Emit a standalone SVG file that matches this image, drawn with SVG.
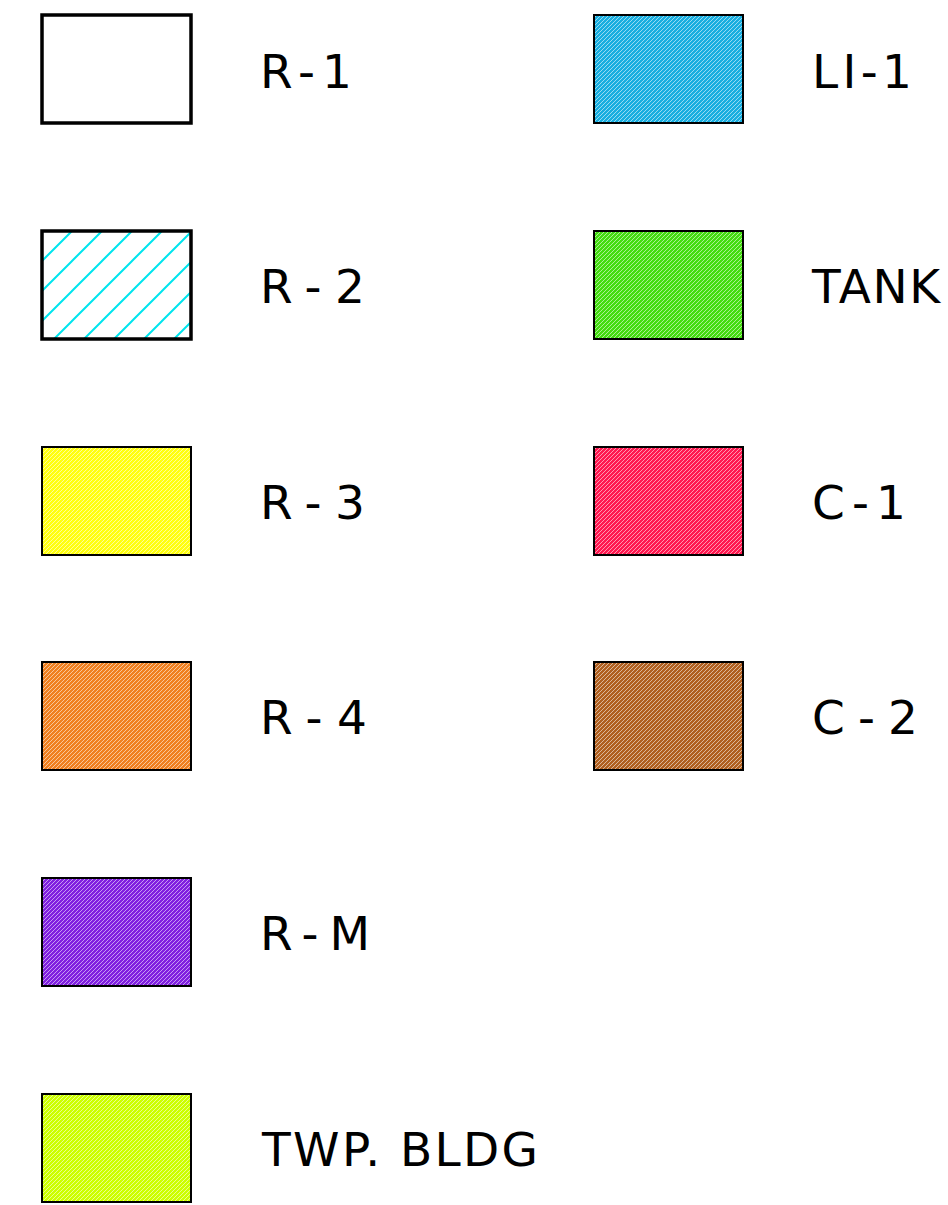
<svg xmlns="http://www.w3.org/2000/svg" width="948" height="1205" viewBox="0 0 948 1205">
<style>
.lbl{font-family:"DejaVu Sans","Liberation Sans",sans-serif;font-size:47px;fill:#000}
.box{stroke:#000;stroke-width:2}
.thick{stroke:#000;stroke-width:3.5;fill:#fff}
</style>
<defs>
<pattern id="h-r2" patternUnits="userSpaceOnUse" width="30" height="30" x="42" y="231">
<path d="M-5,35 L35,-5 M-20,20 L20,-20 M10,50 L50,10" stroke="#00e5ee" stroke-width="2"/>
</pattern>
<pattern id="fine" patternUnits="userSpaceOnUse" width="4" height="4">
<path d="M-1,5 L5,-1 M-1,1 L1,-1 M3,5 L5,3" stroke="#fff" stroke-opacity="0.55" stroke-width="1"/>
</pattern>
</defs>
<rect width="948" height="1205" fill="#fff"/>
<g id="r1"><rect class="thick" x="42" y="15" width="149" height="108"/><text class="lbl" x="260" y="88" textLength="92" lengthAdjust="spacing">R-1</text></g>
<g id="r2"><rect x="42" y="231" width="149" height="108" fill="url(#h-r2)"/><rect x="42" y="231" width="149" height="108" fill="none" stroke="#000" stroke-width="3.5"/><text class="lbl" x="260" y="303" textLength="105" lengthAdjust="spacing">R-2</text></g>
<g id="r3"><rect class="box" x="42" y="447" width="149" height="108" fill="#ffff10"/><rect x="43" y="448" width="147" height="106" fill="url(#fine)"/><text class="lbl" x="260" y="519" textLength="105" lengthAdjust="spacing">R-3</text></g>
<g id="r4"><rect class="box" x="42" y="662" width="149" height="108" fill="#f08020"/><rect x="43" y="663" width="147" height="106" fill="url(#fine)"/><text class="lbl" x="260" y="734" textLength="107" lengthAdjust="spacing">R-4</text></g>
<g id="rm"><rect class="box" x="42" y="878" width="149" height="108" fill="#8020e0"/><rect x="43" y="879" width="147" height="106" fill="url(#fine)"/><text class="lbl" x="260" y="950" textLength="110" lengthAdjust="spacing">R-M</text></g>
<g id="twp"><rect class="box" x="42" y="1094" width="149" height="108" fill="#ccff00"/><rect x="43" y="1095" width="147" height="106" fill="url(#fine)"/><text class="lbl" x="262" y="1166" textLength="276" lengthAdjust="spacing">TWP. BLDG</text></g>
<g id="li1"><rect class="box" x="594" y="15" width="149" height="108" fill="#18aee0"/><rect x="595" y="16" width="147" height="106" fill="url(#fine)"/><text class="lbl" x="812" y="88" textLength="100" lengthAdjust="spacing">LI-1</text></g>
<g id="tank"><rect class="box" x="594" y="231" width="149" height="108" fill="#44dd10"/><rect x="595" y="232" width="147" height="106" fill="url(#fine)"/><text class="lbl" x="812" y="303" textLength="128" lengthAdjust="spacing">TANK</text></g>
<g id="c1"><rect class="box" x="594" y="447" width="149" height="108" fill="#ff1850"/><rect x="595" y="448" width="147" height="106" fill="url(#fine)"/><text class="lbl" x="812" y="519" textLength="94" lengthAdjust="spacing">C-1</text></g>
<g id="c2"><rect class="box" x="594" y="662" width="149" height="108" fill="#b06020"/><rect x="595" y="663" width="147" height="106" fill="url(#fine)"/><text class="lbl" x="812" y="734" textLength="106" lengthAdjust="spacing">C-2</text></g>
<g id="connectors"/>
</svg>
